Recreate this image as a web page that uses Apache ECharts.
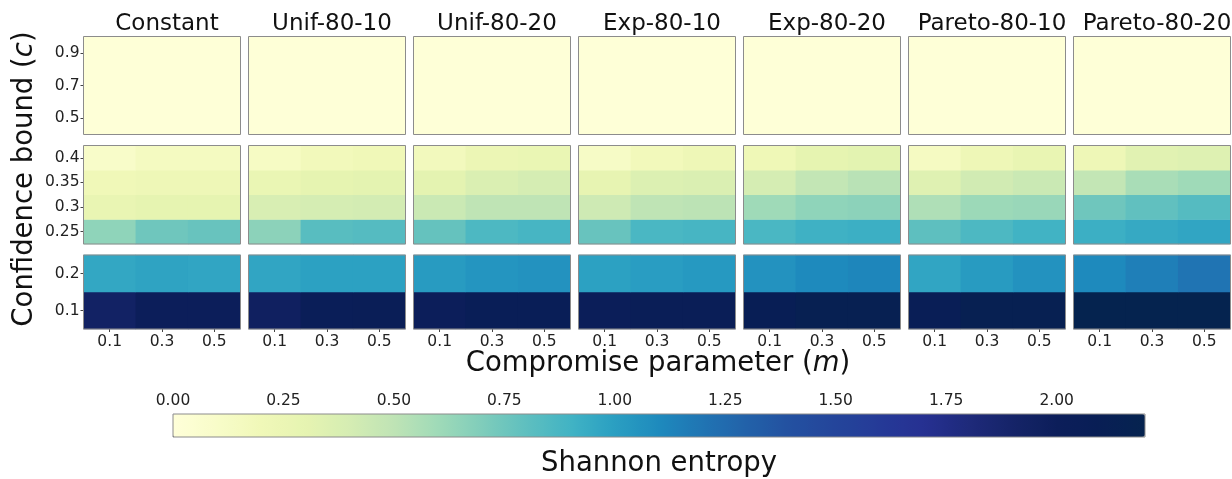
<!DOCTYPE html>
<html>
<head>
<meta charset="utf-8">
<script src="https://cdn.jsdelivr.net/npm/echarts@6/dist/echarts.min.js"></script>
<style>
  html, body { margin: 0; padding: 0; background: #ffffff; }
  #chart { width: 1232px; height: 479px; }
</style>
</head>
<body>
<div id="chart"></div>
<script>
// Compromise parameter values (x axis of every panel)
const mValues = ['0.1', '0.3', '0.5'];
// Confidence bounds, ascending; each entropy array below has one row per bound
const cValues = ['0.1', '0.2', '0.25', '0.3', '0.35', '0.4', '0.5', '0.7', '0.9'];
// Bounds shown in each panel row (top, middle, bottom), listed bottom-up
const panelBounds = [
  ['0.5', '0.7', '0.9'],
  ['0.25', '0.3', '0.35', '0.4'],
  ['0.1', '0.2']
];
const distributions = ['Constant', 'Unif-80-10', 'Unif-80-20', 'Exp-80-10', 'Exp-80-20', 'Pareto-80-10', 'Pareto-80-20'];
const colorbarTicks = [0, 0.25, 0.5, 0.75, 1.0, 1.25, 1.5, 1.75, 2.0];

// Shannon entropy per bound (rows, c ascending) and compromise parameter (columns)
const entropyConstant = [
  [1.93, 2.01, 2.01],
  [0.96, 0.98, 0.97],
  [0.65, 0.75, 0.77],
  [0.27, 0.30, 0.30],
  [0.20, 0.22, 0.22],
  [0.10, 0.15, 0.15],
  [0.01, 0.01, 0.01],
  [0.01, 0.01, 0.01],
  [0.01, 0.01, 0.01]
];
const entropyUnif8010 = [
  [1.96, 2.05, 2.06],
  [0.97, 0.99, 0.99],
  [0.66, 0.82, 0.83],
  [0.38, 0.40, 0.41],
  [0.26, 0.30, 0.31],
  [0.13, 0.18, 0.20],
  [0.01, 0.01, 0.01],
  [0.01, 0.01, 0.01],
  [0.01, 0.01, 0.01]
];
const entropyUnif8020 = [
  [2.00, 2.07, 2.07],
  [1.02, 1.05, 1.06],
  [0.78, 0.86, 0.88],
  [0.45, 0.50, 0.50],
  [0.31, 0.37, 0.40],
  [0.17, 0.24, 0.26],
  [0.01, 0.01, 0.01],
  [0.01, 0.01, 0.01],
  [0.01, 0.01, 0.01]
];
const entropyExp8010 = [
  [2.03, 2.06, 2.06],
  [0.99, 1.01, 1.03],
  [0.77, 0.87, 0.88],
  [0.43, 0.50, 0.51],
  [0.29, 0.36, 0.37],
  [0.12, 0.18, 0.22],
  [0.01, 0.01, 0.01],
  [0.01, 0.01, 0.01],
  [0.01, 0.01, 0.01]
];
const entropyExp8020 = [
  [2.10, 2.15, 2.15],
  [1.06, 1.10, 1.12],
  [0.87, 0.91, 0.92],
  [0.60, 0.65, 0.66],
  [0.40, 0.48, 0.52],
  [0.21, 0.30, 0.32],
  [0.01, 0.01, 0.01],
  [0.01, 0.01, 0.01],
  [0.01, 0.01, 0.01]
];
const entropyPareto8010 = [
  [2.08, 2.15, 2.15],
  [0.97, 1.02, 1.06],
  [0.80, 0.86, 0.90],
  [0.55, 0.61, 0.62],
  [0.34, 0.42, 0.45],
  [0.14, 0.22, 0.27],
  [0.01, 0.01, 0.01],
  [0.01, 0.01, 0.01],
  [0.01, 0.01, 0.01]
];
const entropyPareto8020 = [
  [2.20, 2.20, 2.20],
  [1.10, 1.15, 1.20],
  [0.92, 0.95, 0.97],
  [0.75, 0.79, 0.83],
  [0.48, 0.57, 0.60],
  [0.22, 0.33, 0.35],
  [0.01, 0.01, 0.01],
  [0.01, 0.01, 0.01],
  [0.01, 0.01, 0.01]
];
const entropyByDistribution = [
  entropyConstant, entropyUnif8010, entropyUnif8020, entropyExp8010,
  entropyExp8020, entropyPareto8010, entropyPareto8020
];

// Yellow-green-blue ramp, one stop every 0.1 from 0 to 2.2
const rampColors = [
  '#ffffd9', '#f8fcc9', '#f0f8b8', '#e6f4b1', '#d5edb3', '#bfe4b5',
  '#9fdab8', '#7fcdbb', '#5ebfbf', '#41b3c4', '#2a9fc2', '#1e8abd',
  '#2074b3', '#2261a9', '#2350a0', '#24459b', '#253a97', '#263092',
  '#1e2a7b', '#152468', '#0c1e5a', '#081e55', '#05234f'
];
const entropyMax = 2.2;

// Panel geometry
const FONT = 'DejaVu Sans';
const TICK_SIZE = 15.5;
const panelLeft0 = 83.5, panelStep = 165, panelWidth = 157;
const panelTops = [36.5, 145.5, 255];
const panelHeights = [98, 98.5, 74];
const frameColor = '#8c8c8c';

const grids = [], xAxes = [], yAxes = [], series = [], titles = [];

distributions.forEach((name, d) => {
  const left = panelLeft0 + d * panelStep;
  titles.push({
    text: name,
    left: left + panelWidth / 2,
    top: 8,
    textAlign: 'center',
    textStyle: { fontFamily: FONT, fontSize: 23, fontWeight: 'normal', color: '#111' }
  });
  panelBounds.forEach((bounds, p) => {
    const gi = grids.length;
    grids.push({
      left: left, top: panelTops[p], width: panelWidth, height: panelHeights[p],
      show: true, borderColor: frameColor, borderWidth: 1,
      backgroundColor: 'transparent', z: 5, containLabel: false
    });
    xAxes.push({
      type: 'category', gridIndex: gi, data: mValues, position: 'bottom',
      axisLine: { show: false },
      axisTick: { show: p === 2, length: 3, alignWithLabel: true, lineStyle: { color: '#444' } },
      axisLabel: { show: p === 2, margin: 5, fontFamily: FONT, fontSize: TICK_SIZE, color: '#222' },
      splitLine: { show: false }
    });
    yAxes.push({
      type: 'category', gridIndex: gi, data: bounds,
      axisLine: { show: false },
      axisTick: { show: d === 0, length: 3, alignWithLabel: true, lineStyle: { color: '#444' } },
      axisLabel: { show: d === 0, margin: 4, fontFamily: FONT, fontSize: TICK_SIZE, color: '#222' },
      splitLine: { show: false }
    });
    const values = entropyByDistribution[d];
    const data = [];
    bounds.forEach((c, yi) => {
      const row = values[cValues.indexOf(c)];
      mValues.forEach((m, xi) => data.push([xi, yi, row[xi]]));
    });
    series.push({
      type: 'heatmap', xAxisIndex: gi, yAxisIndex: gi, data: data,
      itemStyle: { borderWidth: 0 }, emphasis: { disabled: true }, z: 2
    });
  });
});

// Colorbar frame and tick axis
const barLeft = 173, barTop = 414, barLength = 972, barThickness = 23;
const cbIndex = grids.length;
grids.push({
  left: barLeft, top: barTop, width: barLength, height: barThickness,
  show: true, borderColor: frameColor, borderWidth: 1,
  backgroundColor: 'transparent', z: 5
});
xAxes.push({
  type: 'value', gridIndex: cbIndex, min: 0, max: entropyMax, interval: 0.25,
  position: 'top',
  axisLine: { show: false },
  axisTick: { show: true, length: 3, lineStyle: { color: '#666' } },
  axisLabel: {
    margin: 5, fontFamily: FONT, fontSize: TICK_SIZE, color: '#222',
    showMaxLabel: false,
    formatter: v => colorbarTicks.some(t => Math.abs(t - v) < 1e-9) ? v.toFixed(2) : ''
  },
  splitLine: { show: false }
});
yAxes.push({ type: 'value', gridIndex: cbIndex, show: false });

const nameStyle = {
  a: { fontFamily: FONT, fontSize: 27.5, fill: '#111' },
  i: { fontFamily: FONT, fontSize: 27.5, fontStyle: 'italic', fill: '#111' }
};

const option = {
  backgroundColor: '#ffffff',
  animation: false,
  title: titles,
  grid: grids,
  xAxis: xAxes,
  yAxis: yAxes,
  visualMap: {
    type: 'continuous',
    min: 0, max: entropyMax,
    seriesIndex: series.map((s, i) => i),
    orient: 'horizontal',
    left: barLeft, top: barTop,
    itemHeight: barLength, itemWidth: barThickness,
    padding: 0,
    calculable: false, hoverLink: false,
    text: null, showLabel: false,
    inRange: { color: rampColors }
  },
  graphic: [
    {
      type: 'text', x: 25, y: 179, rotation: Math.PI / 2,
      style: {
        text: '{a|Confidence bound (}{i|c}{a|)}',
        align: 'center', verticalAlign: 'middle',
        rich: nameStyle
      }
    },
    {
      type: 'text', x: 658, y: 364,
      style: {
        text: '{a|Compromise parameter (}{i|m}{a|)}',
        align: 'center', verticalAlign: 'middle',
        rich: nameStyle
      }
    },
    {
      type: 'text', x: 659, y: 464,
      style: {
        text: 'Shannon entropy', align: 'center', verticalAlign: 'middle',
        fontFamily: FONT, fontSize: 27.5, fill: '#111'
      }
    }
  ],
  series: series
};

const chart = echarts.init(document.getElementById('chart'), null, { renderer: 'canvas' });
chart.setOption(option);
</script>
</body>
</html>
